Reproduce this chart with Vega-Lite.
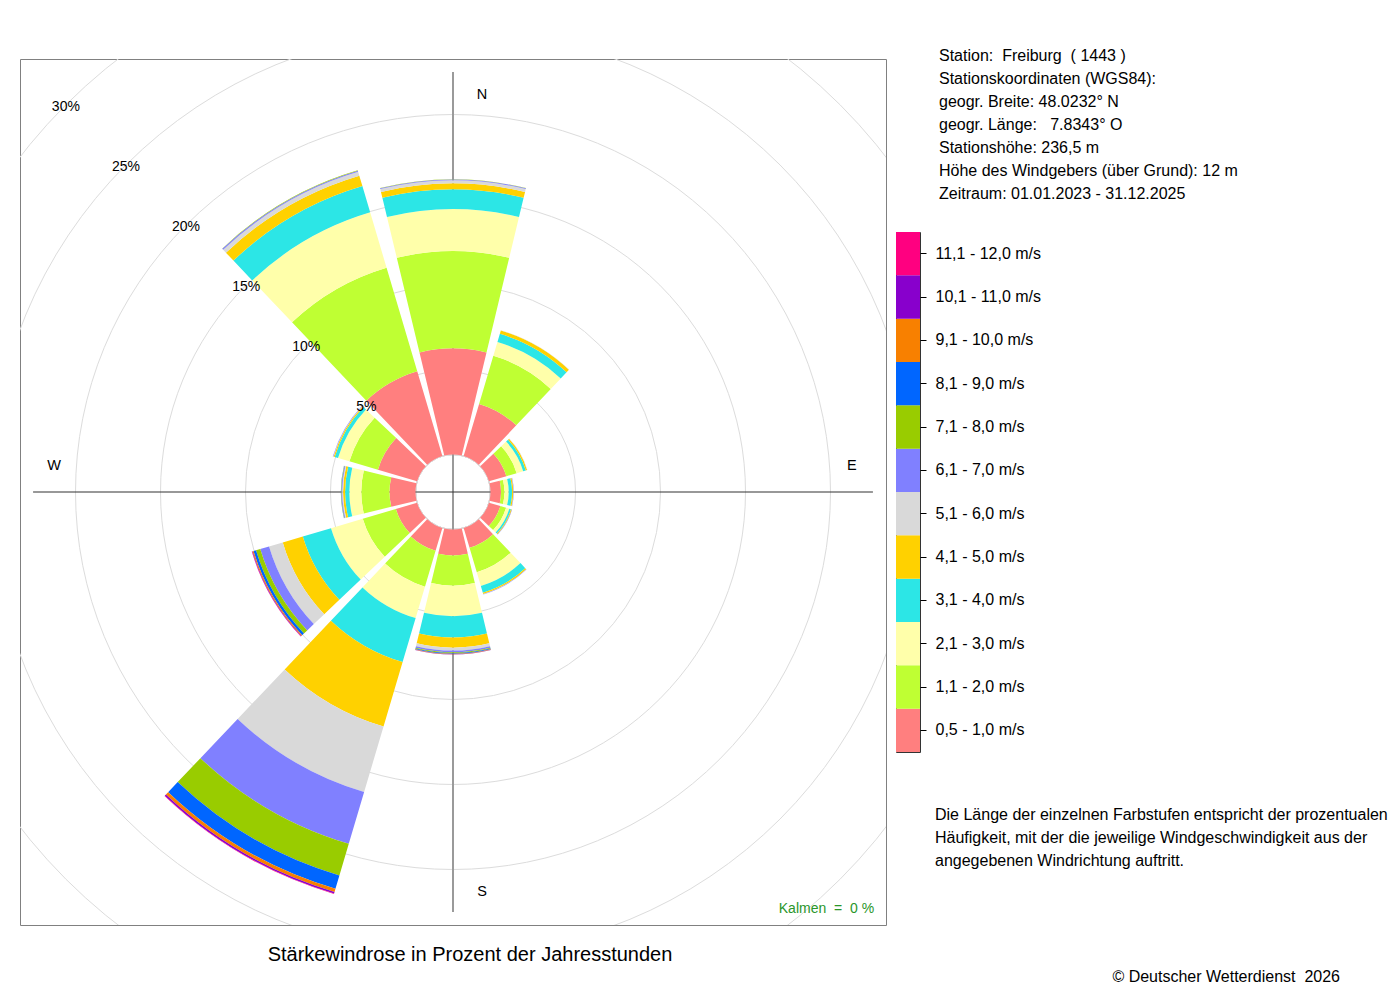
{
  "$schema": "https://vega.github.io/schema/vega-lite/v6.json",
  "padding": {"left": 19, "top": 48, "right": 0, "bottom": 0},
  "background": "white",
  "config": {
    "font": "Liberation Sans",
    "view": {"stroke": "#808080", "strokeWidth": 1}
  },
  "datasets": {
    "classes": [
      {"k": 1, "speed": "0,5 - 1,0 m/s"},
      {"k": 2, "speed": "1,1 - 2,0 m/s"},
      {"k": 3, "speed": "2,1 - 3,0 m/s"},
      {"k": 4, "speed": "3,1 - 4,0 m/s"},
      {"k": 5, "speed": "4,1 - 5,0 m/s"},
      {"k": 6, "speed": "5,1 - 6,0 m/s"},
      {"k": 7, "speed": "6,1 - 7,0 m/s"},
      {"k": 8, "speed": "7,1 - 8,0 m/s"},
      {"k": 9, "speed": "8,1 - 9,0 m/s"},
      {"k": 10, "speed": "9,1 - 10,0 m/s"},
      {"k": 11, "speed": "10,1 - 11,0 m/s"},
      {"k": 12, "speed": "11,1 - 12,0 m/s"}
    ],
    "rose": [
      {"dir": 0, "k": 1, "pct": 6.24}, {"dir": 0, "k": 2, "pct": 5.72}, {"dir": 0, "k": 3, "pct": 2.47},
      {"dir": 0, "k": 4, "pct": 1.16}, {"dir": 0, "k": 5, "pct": 0.36}, {"dir": 0, "k": 6, "pct": 0.17},
      {"dir": 0, "k": 7, "pct": 0.05}, {"dir": 0, "k": 8, "pct": 0.01},
      {"dir": 30, "k": 1, "pct": 3.2}, {"dir": 30, "k": 2, "pct": 2.95}, {"dir": 30, "k": 3, "pct": 0.85},
      {"dir": 30, "k": 4, "pct": 0.5}, {"dir": 30, "k": 5, "pct": 0.2}, {"dir": 30, "k": 6, "pct": 0.02},
      {"dir": 60, "k": 1, "pct": 1.07}, {"dir": 60, "k": 2, "pct": 0.63}, {"dir": 60, "k": 3, "pct": 0.4},
      {"dir": 60, "k": 4, "pct": 0.16}, {"dir": 60, "k": 5, "pct": 0.08}, {"dir": 60, "k": 6, "pct": 0.02},
      {"dir": 90, "k": 1, "pct": 0.62}, {"dir": 90, "k": 2, "pct": 0.2}, {"dir": 90, "k": 3, "pct": 0.25},
      {"dir": 90, "k": 4, "pct": 0.2}, {"dir": 90, "k": 5, "pct": 0.07}, {"dir": 90, "k": 6, "pct": 0.01},
      {"dir": 90, "k": 7, "pct": 0.02},
      {"dir": 120, "k": 1, "pct": 0.7}, {"dir": 120, "k": 2, "pct": 0.35}, {"dir": 120, "k": 3, "pct": 0.2},
      {"dir": 120, "k": 4, "pct": 0.1}, {"dir": 120, "k": 5, "pct": 0.05}, {"dir": 120, "k": 7, "pct": 0.02},
      {"dir": 150, "k": 1, "pct": 1.22}, {"dir": 150, "k": 2, "pct": 1.5}, {"dir": 150, "k": 3, "pct": 0.84},
      {"dir": 150, "k": 4, "pct": 0.41}, {"dir": 150, "k": 5, "pct": 0.08}, {"dir": 150, "k": 6, "pct": 0.01},
      {"dir": 150, "k": 7, "pct": 0.02},
      {"dir": 180, "k": 1, "pct": 1.53}, {"dir": 180, "k": 2, "pct": 1.77}, {"dir": 180, "k": 3, "pct": 1.8},
      {"dir": 180, "k": 4, "pct": 1.25}, {"dir": 180, "k": 5, "pct": 0.6}, {"dir": 180, "k": 6, "pct": 0.17},
      {"dir": 180, "k": 7, "pct": 0.1}, {"dir": 180, "k": 8, "pct": 0.04}, {"dir": 180, "k": 9, "pct": 0.04},
      {"dir": 180, "k": 10, "pct": 0.03}, {"dir": 180, "k": 11, "pct": 0.02},
      {"dir": 210, "k": 1, "pct": 1.4}, {"dir": 210, "k": 2, "pct": 2.2}, {"dir": 210, "k": 3, "pct": 1.93},
      {"dir": 210, "k": 4, "pct": 2.7}, {"dir": 210, "k": 5, "pct": 3.95}, {"dir": 210, "k": 6, "pct": 4.02},
      {"dir": 210, "k": 7, "pct": 3.18}, {"dir": 210, "k": 8, "pct": 1.94}, {"dir": 210, "k": 9, "pct": 0.82},
      {"dir": 210, "k": 10, "pct": 0.19}, {"dir": 210, "k": 11, "pct": 0.09}, {"dir": 210, "k": 12, "pct": 0.03},
      {"dir": 240, "k": 1, "pct": 1.3}, {"dir": 240, "k": 2, "pct": 2.03}, {"dir": 240, "k": 3, "pct": 1.95},
      {"dir": 240, "k": 4, "pct": 1.73}, {"dir": 240, "k": 5, "pct": 1.23}, {"dir": 240, "k": 6, "pct": 0.84},
      {"dir": 240, "k": 7, "pct": 0.54}, {"dir": 240, "k": 8, "pct": 0.26}, {"dir": 240, "k": 9, "pct": 0.15},
      {"dir": 240, "k": 10, "pct": 0.06}, {"dir": 240, "k": 11, "pct": 0.03}, {"dir": 240, "k": 12, "pct": 0.02},
      {"dir": 270, "k": 1, "pct": 1.53}, {"dir": 270, "k": 2, "pct": 1.66}, {"dir": 270, "k": 3, "pct": 0.7},
      {"dir": 270, "k": 4, "pct": 0.25}, {"dir": 270, "k": 5, "pct": 0.12}, {"dir": 270, "k": 6, "pct": 0.05},
      {"dir": 270, "k": 7, "pct": 0.05}, {"dir": 270, "k": 8, "pct": 0.02}, {"dir": 270, "k": 9, "pct": 0.01},
      {"dir": 300, "k": 1, "pct": 2.4}, {"dir": 300, "k": 2, "pct": 1.75}, {"dir": 300, "k": 3, "pct": 0.7},
      {"dir": 300, "k": 4, "pct": 0.2}, {"dir": 300, "k": 5, "pct": 0.07}, {"dir": 300, "k": 6, "pct": 0.02},
      {"dir": 300, "k": 7, "pct": 0.03},
      {"dir": 330, "k": 1, "pct": 5.2}, {"dir": 330, "k": 2, "pct": 6.35}, {"dir": 330, "k": 3, "pct": 3.4},
      {"dir": 330, "k": 4, "pct": 1.61}, {"dir": 330, "k": 5, "pct": 0.64}, {"dir": 330, "k": 6, "pct": 0.24},
      {"dir": 330, "k": 7, "pct": 0.07}, {"dir": 330, "k": 8, "pct": 0.02}
    ]
  },
  "spacing": 8,
  "hconcat": [
    {
      "width": 866,
      "height": 866,
      "title": {
        "text": "Stärkewindrose in Prozent der Jahresstunden",
        "orient": "bottom",
        "anchor": "middle",
        "fontSize": 20,
        "fontWeight": "normal",
        "color": "#000000",
        "offset": 20,
        "dx": 17
      },
      "layer": [
        {
          "data": {"values": [{"pct": 0}, {"pct": 5}, {"pct": 10}, {"pct": 15}, {"pct": 20}, {"pct": 25}, {"pct": 30}, {"pct": 35}]},
          "mark": {"type": "arc", "filled": false, "stroke": "#dcdcdc", "strokeWidth": 1, "clip": true},
          "encoding": {
            "theta": {"datum": 0, "type": "quantitative", "stack": null, "scale": {"type": "linear", "domain": [0, 360], "range": [0, 6.283185307179586]}},
            "theta2": {"datum": 360},
            "radius": {"field": "pct", "type": "quantitative", "stack": null, "scale": {"type": "linear", "domain": [0, 30], "range": [37.5, 547.5]}}
          }
        },
        {
          "data": {"values": [{}]},
          "mark": {"type": "rule", "color": "#9a9a9a", "strokeWidth": 2},
          "encoding": {
            "x": {"datum": 0, "type": "quantitative", "scale": {"domain": [-25.5, 25.5]}, "axis": null},
            "y": {"datum": -24.73, "type": "quantitative", "scale": {"domain": [-25.5, 25.5]}, "axis": null},
            "y2": {"datum": 24.73}
          }
        },
        {
          "data": {"values": [{}]},
          "mark": {"type": "rule", "color": "#333333", "strokeWidth": 1.2},
          "encoding": {
            "y": {"datum": 0, "type": "quantitative", "scale": {"domain": [-25.5, 25.5]}, "axis": null},
            "x": {"datum": -24.73, "type": "quantitative", "scale": {"domain": [-25.5, 25.5]}, "axis": null},
            "x2": {"datum": 24.73}
          }
        },
        {
          "data": {"name": "rose"},
          "transform": [
            {"lookup": "k", "from": {"data": {"name": "classes"}, "key": "k", "fields": ["speed"]}},
            {"stack": "pct", "groupby": ["dir"], "sort": [{"field": "k", "order": "ascending"}], "as": ["r0", "r1"]}
          ],
          "mark": {"type": "arc", "thetaOffset": -0.2356, "theta2Offset": 0.2356},
          "encoding": {
            "theta": {"field": "dir", "type": "quantitative", "stack": null, "scale": {"type": "linear", "domain": [0, 360], "range": [0, 6.283185307179586]}},
            "theta2": {"field": "dir"},
            "radius": {"field": "r1", "type": "quantitative", "stack": null, "scale": {"type": "linear", "domain": [0, 30], "range": [37.5, 547.5]}},
            "radius2": {"field": "r0"},
            "color": {
              "field": "speed",
              "type": "nominal",
              "scale": {
                "domain": ["0,5 - 1,0 m/s", "1,1 - 2,0 m/s", "2,1 - 3,0 m/s", "3,1 - 4,0 m/s", "4,1 - 5,0 m/s", "5,1 - 6,0 m/s", "6,1 - 7,0 m/s", "7,1 - 8,0 m/s", "8,1 - 9,0 m/s", "9,1 - 10,0 m/s", "10,1 - 11,0 m/s", "11,1 - 12,0 m/s"],
                "range": ["#ff7f7f", "#bfff33", "#ffffaa", "#2ce6e6", "#ffd100", "#d9d9d9", "#8080ff", "#99cc00", "#0066ff", "#f88000", "#8800cc", "#ff0080"]
              },
              "legend": null
            }
          }
        },
        {
          "data": {"values": [{"pct": 5, "label": "5%"}, {"pct": 10, "label": "10%"}, {"pct": 15, "label": "15%"}, {"pct": 20, "label": "20%"}, {"pct": 25, "label": "25%"}, {"pct": 30, "label": "30%"}]},
          "mark": {"type": "text", "fontSize": 14, "color": "#000000", "dy": 2},
          "encoding": {
            "theta": {"datum": 315, "type": "quantitative", "stack": null, "scale": {"type": "linear", "domain": [0, 360], "range": [0, 6.283185307179586]}},
            "radius": {"field": "pct", "type": "quantitative", "stack": null, "scale": {"type": "linear", "domain": [0, 30], "range": [37.5, 547.5]}},
            "text": {"field": "label"}
          }
        },
        {
          "data": {"values": [{"dir": 0, "label": "N"}, {"dir": 180, "label": "S"}]},
          "mark": {"type": "text", "fontSize": 14.5, "color": "#000000", "dx": 29, "dy": 1.5},
          "encoding": {
            "theta": {"field": "dir", "type": "quantitative", "stack": null, "scale": {"type": "linear", "domain": [0, 360], "range": [0, 6.283185307179586]}},
            "radius": {"datum": 21.26, "type": "quantitative", "stack": null, "scale": {"type": "linear", "domain": [0, 30], "range": [37.5, 547.5]}},
            "text": {"field": "label"}
          }
        },
        {
          "data": {"values": [{"dir": 90, "label": "E"}, {"dir": 270, "label": "W"}]},
          "mark": {"type": "text", "fontSize": 14.5, "color": "#000000", "dy": -26.5},
          "encoding": {
            "theta": {"field": "dir", "type": "quantitative", "stack": null, "scale": {"type": "linear", "domain": [0, 360], "range": [0, 6.283185307179586]}},
            "radius": {"datum": 21.26, "type": "quantitative", "stack": null, "scale": {"type": "linear", "domain": [0, 30], "range": [37.5, 547.5]}},
            "text": {"field": "label"}
          }
        },
        {
          "data": {"values": [{"text": "Kalmen\u00a0 =\u00a0 0 %"}]},
          "mark": {"type": "text", "align": "right", "baseline": "middle", "fontSize": 14, "color": "#2a962a"},
          "encoding": {
            "x": {"datum": 24.8, "type": "quantitative", "scale": {"domain": [-25.5, 25.5]}, "axis": null},
            "y": {"datum": -24.55, "type": "quantitative", "scale": {"domain": [-25.5, 25.5]}, "axis": null},
            "text": {"field": "text"}
          }
        }
      ]
    },
    {
      "spacing": 22,
      "vconcat": [
        {
          "width": 440,
          "height": 150,
          "view": {"stroke": null},
          "data": {"values": [
            {"line": 0, "text": "Station:\u00a0 Freiburg\u00a0 ( 1443 )"},
            {"line": 1, "text": "Stationskoordinaten (WGS84):"},
            {"line": 2, "text": "geogr. Breite: 48.0232° N"},
            {"line": 3, "text": "geogr. Länge:\u00a0\u00a0 7.8343° O"},
            {"line": 4, "text": "Stationshöhe: 236,5 m"},
            {"line": 5, "text": "Höhe des Windgebers (über Grund): 12 m"},
            {"line": 6, "text": "Zeitraum: 01.01.2023 - 31.12.2025"}
          ]},
          "mark": {"type": "text", "align": "left", "baseline": "middle", "fontSize": 16, "color": "#000000", "dx": 43},
          "encoding": {
            "x": {"datum": 0, "type": "quantitative", "scale": {"domain": [0, 1]}, "axis": null},
            "y": {"field": "line", "type": "quantitative", "scale": {"domain": [0, 6], "range": [-3, 135]}, "axis": null},
            "text": {"field": "text"}
          }
        },
        {
          "width": 24,
          "height": 520,
          "view": {"stroke": "#333333", "strokeWidth": 1},
          "data": {"name": "classes"},
          "mark": {"type": "rect"},
          "encoding": {
            "y": {
              "field": "speed",
              "type": "nominal",
              "sort": {"field": "k", "op": "max", "order": "descending"},
              "scale": {"paddingInner": 0, "paddingOuter": 0},
              "axis": {
                "orient": "right",
                "title": null,
                "domain": false,
                "grid": false,
                "ticks": true,
                "tickSize": 6,
                "tickColor": "#000000",
                "tickWidth": 1,
                "labelFontSize": 16,
                "labelColor": "#000000",
                "labelPadding": 9
              }
            },
            "color": {
              "field": "speed",
              "type": "nominal",
              "scale": {
                "domain": ["0,5 - 1,0 m/s", "1,1 - 2,0 m/s", "2,1 - 3,0 m/s", "3,1 - 4,0 m/s", "4,1 - 5,0 m/s", "5,1 - 6,0 m/s", "6,1 - 7,0 m/s", "7,1 - 8,0 m/s", "8,1 - 9,0 m/s", "9,1 - 10,0 m/s", "10,1 - 11,0 m/s", "11,1 - 12,0 m/s"],
                "range": ["#ff7f7f", "#bfff33", "#ffffaa", "#2ce6e6", "#ffd100", "#d9d9d9", "#8080ff", "#99cc00", "#0066ff", "#f88000", "#8800cc", "#ff0080"]
              },
              "legend": null
            }
          }
        },
        {
          "width": 444,
          "height": 215,
          "view": {"stroke": null},
          "layer": [
            {
              "data": {"values": [
                {"line": 0, "text": "Die Länge der einzelnen Farbstufen entspricht der prozentualen"},
                {"line": 1, "text": "Häufigkeit, mit der die jeweilige Windgeschwindigkeit aus der"},
                {"line": 2, "text": "angegebenen Windrichtung auftritt."}
              ]},
              "mark": {"type": "text", "align": "left", "baseline": "middle", "fontSize": 16, "color": "#000000", "dx": 39},
              "encoding": {
                "x": {"datum": 0, "type": "quantitative", "scale": {"domain": [0, 1]}, "axis": null},
                "y": {"field": "line", "type": "quantitative", "scale": {"domain": [0, 7], "range": [40, 202]}, "axis": null},
                "text": {"field": "text"}
              }
            },
            {
              "data": {"values": [{"line": 7, "text": "© Deutscher Wetterdienst\u00a0 2026"}]},
              "mark": {"type": "text", "align": "right", "baseline": "middle", "fontSize": 16, "color": "#000000"},
              "encoding": {
                "x": {"datum": 1, "type": "quantitative", "scale": {"domain": [0, 1]}, "axis": null},
                "y": {"field": "line", "type": "quantitative", "scale": {"domain": [0, 7], "range": [40, 202]}, "axis": null},
                "text": {"field": "text"}
              }
            }
          ]
        }
      ]
    }
  ]
}
